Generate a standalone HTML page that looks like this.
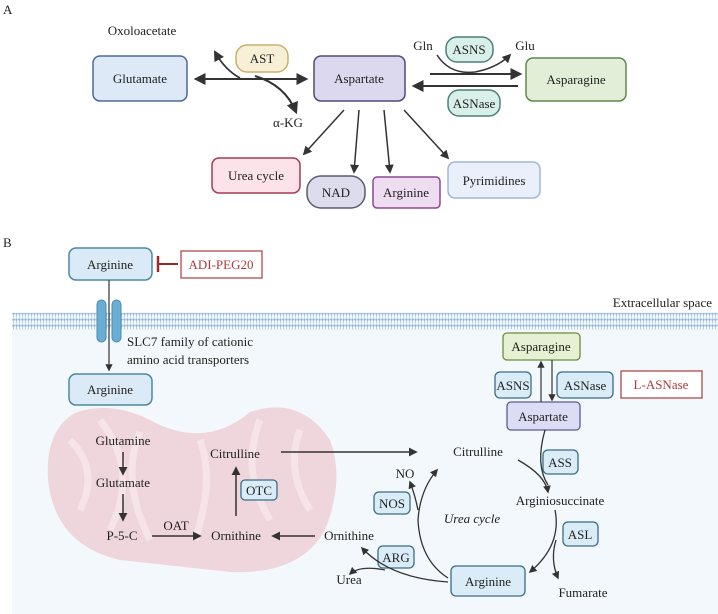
<!DOCTYPE html>
<html><head><meta charset="utf-8"><style>
body{margin:0;background:#fff}
svg{display:block;font-family:"Liberation Serif","DejaVu Serif",serif}
text{font-size:13px;fill:#222}
</style></head><body>
<svg width="718" height="614" viewBox="0 0 718 614" xmlns="http://www.w3.org/2000/svg">
<defs>
<marker id="a" viewBox="0 0 10 10" refX="8" refY="5" markerWidth="6" markerHeight="6" orient="auto-start-reverse"><path d="M0,0L10,5L0,10z" fill="#333"/></marker>
<pattern id="mem" width="3" height="6" patternUnits="userSpaceOnUse"><rect width="3" height="6" fill="#f2f8fb"/><circle cx="1.5" cy="1.6" r="1.2" fill="#8fb3d6"/><rect x="1" y="2.5" width="1" height="3" fill="#b8cfe6"/></pattern>
</defs>
<!-- Panel A -->
<text x="3" y="14" font-size="12">A</text>
<text x="142" y="35" text-anchor="middle">Oxoloacetate</text>
<rect x="236" y="45" width="52" height="27" rx="11" fill="#f7f0d6" stroke="#c6b26a" stroke-width="1.5"/>
<text x="262" y="63" text-anchor="middle">AST</text>
<rect x="93" y="56" width="94" height="45" rx="7" fill="#dde9f7" stroke="#4b6b96" stroke-width="1.5"/>
<text x="140" y="83" text-anchor="middle">Glutamate</text>
<rect x="314" y="56" width="91" height="45" rx="7" fill="#dcd9ee" stroke="#4f4b78" stroke-width="1.5"/>
<text x="359" y="83" text-anchor="middle">Aspartate</text>
<rect x="526" y="58" width="100" height="43" rx="7" fill="#e2eed8" stroke="#5f8a4a" stroke-width="1.5"/>
<text x="576" y="84" text-anchor="middle">Asparagine</text>
<rect x="446" y="37" width="47" height="25" rx="11" fill="#d8efea" stroke="#4b8078" stroke-width="1.5"/>
<text x="469" y="54" text-anchor="middle">ASNS</text>
<rect x="448" y="90" width="52" height="26" rx="11" fill="#d8efea" stroke="#4b8078" stroke-width="1.5"/>
<text x="474" y="108" text-anchor="middle">ASNase</text>
<text x="423" y="50" text-anchor="middle">Gln</text>
<text x="525" y="50" text-anchor="middle">Glu</text>
<text x="288" y="127" text-anchor="middle">α-KG</text>
<line x1="196" y1="79" x2="306" y2="79" stroke="#333" stroke-width="2" marker-start="url(#a)" marker-end="url(#a)"/>
<path d="M240,78 Q225,70 215,52" fill="none" stroke="#333" stroke-width="1.8" marker-end="url(#a)"/>
<path d="M255,76 Q285,85 296,112" fill="none" stroke="#333" stroke-width="2" marker-end="url(#a)"/>
<line x1="430" y1="74" x2="520" y2="74" stroke="#333" stroke-width="2" marker-end="url(#a)"/>
<line x1="518" y1="86" x2="414" y2="86" stroke="#333" stroke-width="2" marker-end="url(#a)"/>
<path d="M437,55 Q450,75 475,72 Q497,68 510,55" fill="none" stroke="#333" stroke-width="1.5" marker-end="url(#a)"/>
<path d="M344,110 L304,154" stroke="#333" stroke-width="1.5" marker-end="url(#a)"/>
<path d="M359,110 L354,172" stroke="#333" stroke-width="1.5" marker-end="url(#a)"/>
<path d="M384,110 L390,172" stroke="#333" stroke-width="1.5" marker-end="url(#a)"/>
<path d="M404,110 L448,158" stroke="#333" stroke-width="1.5" marker-end="url(#a)"/>
<rect x="212" y="158" width="88" height="35" rx="7" fill="#fbe3e9" stroke="#a83a56" stroke-width="1.5"/>
<text x="256" y="180" text-anchor="middle">Urea cycle</text>
<rect x="307" y="176" width="58" height="32" rx="14" fill="#dcdcec" stroke="#5a5a70" stroke-width="1.5"/>
<text x="336" y="197" text-anchor="middle">NAD</text>
<rect x="373" y="177" width="67" height="31" rx="4" fill="#eedcf0" stroke="#8a4a90" stroke-width="1.5"/>
<text x="406" y="197" text-anchor="middle">Arginine</text>
<rect x="448" y="162" width="92" height="36" rx="7" fill="#eaf0fb" stroke="#a3b5d6" stroke-width="1.5"/>
<text x="494" y="185" text-anchor="middle">Pyrimidines</text>
<!-- Panel B -->
<text x="3" y="247" font-size="12">B</text>
<rect x="12" y="312" width="706" height="302" fill="#f2f8fb"/>
<rect x="12" y="313" width="706" height="17" fill="url(#mem)"/>
<text x="712" y="307" text-anchor="end">Extracellular space</text>
<rect x="69" y="248" width="83" height="32" rx="7" fill="#dbeaf6" stroke="#4a8aa0" stroke-width="1.5"/>
<text x="110" y="269" text-anchor="middle">Arginine</text>
<rect x="181" y="251" width="81" height="27" fill="#fff" stroke="#b04a4a" stroke-width="1.3"/>
<text x="221" y="269" text-anchor="middle" style="fill:#b03a3a">ADI-PEG20</text>
<line x1="178" y1="264" x2="158" y2="264" stroke="#9a2a2a" stroke-width="2"/>
<line x1="158" y1="256" x2="158" y2="272" stroke="#9a2a2a" stroke-width="2.5"/>
<rect x="97" y="300" width="9" height="42" rx="4.5" fill="#6aaed3" stroke="#4a8ab0"/>
<rect x="112" y="300" width="9" height="42" rx="4.5" fill="#6aaed3" stroke="#4a8ab0"/>
<line x1="109" y1="280" x2="109" y2="370" stroke="#333" stroke-width="1.2" marker-end="url(#a)"/>
<text x="127" y="346">SLC7 family of cationic</text>
<text x="127" y="364">amino acid transporters</text>
<rect x="69" y="374" width="83" height="31" rx="7" fill="#dbeaf6" stroke="#4a8aa0" stroke-width="1.5"/>
<text x="110" y="394" text-anchor="middle">Arginine</text>
<!-- mitochondrion -->
<path d="M75,413 Q110,400 150,420 Q205,450 250,412 Q300,395 330,440 Q345,480 325,530 Q300,575 230,572 L120,560 Q55,545 48,480 Q45,430 75,413z" fill="#efd6dc"/>
<path d="M70,440 Q100,470 80,510 M100,420 Q140,470 110,530 M140,432 Q120,480 150,540 M200,440 Q215,480 195,540 M260,420 Q240,470 270,520 M300,430 Q285,470 310,510" fill="none" stroke="#f6e4e8" stroke-width="7"/>
<text x="123" y="445" text-anchor="middle">Glutamine</text>
<text x="123" y="487" text-anchor="middle">Glutamate</text>
<text x="122" y="540" text-anchor="middle">P-5-C</text>
<line x1="123" y1="452" x2="123" y2="474" stroke="#333" stroke-width="1.5" marker-end="url(#a)"/>
<line x1="123" y1="494" x2="123" y2="520" stroke="#333" stroke-width="1.5" marker-end="url(#a)"/>
<text x="176" y="530" text-anchor="middle">OAT</text>
<line x1="152" y1="536" x2="200" y2="536" stroke="#333" stroke-width="1.5" marker-end="url(#a)"/>
<text x="236" y="540" text-anchor="middle">Ornithine</text>
<rect x="241" y="480" width="36" height="20" rx="4" fill="#d9ecf7" stroke="#3b6e84" stroke-width="1.3"/>
<text x="259" y="495" text-anchor="middle">OTC</text>
<line x1="236" y1="516" x2="236" y2="468" stroke="#333" stroke-width="1.5" marker-end="url(#a)"/>
<text x="235" y="458" text-anchor="middle">Citrulline</text>
<line x1="281" y1="452" x2="416" y2="452" stroke="#333" stroke-width="1.5" marker-end="url(#a)"/>
<text x="349" y="540" text-anchor="middle">Ornithine</text>
<line x1="315" y1="536" x2="273" y2="536" stroke="#333" stroke-width="1.5" marker-end="url(#a)"/>
<text x="478" y="456" text-anchor="middle">Citrulline</text>
<!-- asparagine region -->
<rect x="503" y="333" width="77" height="27" rx="4" fill="#e6f0d2" stroke="#6e8c3a" stroke-width="1.3"/>
<text x="541" y="351" text-anchor="middle">Asparagine</text>
<rect x="507" y="402" width="73" height="28" rx="4" fill="#dcdcf4" stroke="#5a5a9a" stroke-width="1.3"/>
<text x="543" y="421" text-anchor="middle">Aspartate</text>
<rect x="495" y="372" width="36" height="26" rx="5" fill="#d9ecf7" stroke="#3b6e84" stroke-width="1.3"/>
<text x="513" y="390" text-anchor="middle">ASNS</text>
<rect x="557" y="372" width="56" height="26" rx="5" fill="#d9ecf7" stroke="#3b6e84" stroke-width="1.3"/>
<text x="585" y="390" text-anchor="middle">ASNase</text>
<rect x="621" y="371" width="81" height="27" fill="#fff" stroke="#b04a4a" stroke-width="1.3"/>
<text x="661" y="389" text-anchor="middle" style="fill:#b03a3a">L-ASNase</text>
<line x1="541" y1="402" x2="541" y2="362" stroke="#333" stroke-width="1.2" marker-end="url(#a)"/>
<line x1="552" y1="360" x2="552" y2="400" stroke="#333" stroke-width="1.2" marker-end="url(#a)"/>
<!-- urea cycle -->
<rect x="543" y="450" width="35" height="24" rx="5" fill="#d9ecf7" stroke="#3b6e84" stroke-width="1.3"/>
<text x="560" y="467" text-anchor="middle">ASS</text>
<text x="560" y="505" text-anchor="middle">Arginiosuccinate</text>
<rect x="563" y="522" width="35" height="24" rx="5" fill="#d9ecf7" stroke="#3b6e84" stroke-width="1.3"/>
<text x="580" y="539" text-anchor="middle">ASL</text>
<rect x="451" y="566" width="74" height="30" rx="5" fill="#d9ecf7" stroke="#3b6e84" stroke-width="1.3"/>
<text x="488" y="586" text-anchor="middle">Arginine</text>
<text x="583" y="597" text-anchor="middle">Fumarate</text>
<text x="349" y="584" text-anchor="middle">Urea</text>
<text x="405" y="478" text-anchor="middle">NO</text>
<rect x="374" y="492" width="36" height="22" rx="5" fill="#d9ecf7" stroke="#3b6e84" stroke-width="1.3"/>
<text x="392" y="508" text-anchor="middle">NOS</text>
<rect x="378" y="546" width="36" height="22" rx="5" fill="#d9ecf7" stroke="#3b6e84" stroke-width="1.3"/>
<text x="396" y="562" text-anchor="middle">ARG</text>
<text x="472" y="523" text-anchor="middle" font-style="italic">Urea cycle</text>
<path d="M518,460 Q545,475 548,492" fill="none" stroke="#333" stroke-width="1.3" marker-end="url(#a)"/>
<path d="M545,430 Q535,465 548,485" fill="none" stroke="#333" stroke-width="1.3"/>
<path d="M555,510 Q562,545 530,572" fill="none" stroke="#333" stroke-width="1.3" marker-end="url(#a)"/>
<path d="M556,540 Q550,560 558,578" fill="none" stroke="#333" stroke-width="1.3" marker-end="url(#a)"/>
<path d="M448,578 Q420,560 418,520 Q420,490 437,470" fill="none" stroke="#333" stroke-width="1.3" marker-end="url(#a)"/>
<path d="M418,510 Q415,495 410,482" fill="none" stroke="#333" stroke-width="1.3" marker-end="url(#a)"/>
<path d="M448,582 Q390,578 362,548" fill="none" stroke="#333" stroke-width="1.3" marker-end="url(#a)"/>
<path d="M385,570 Q360,565 350,574" fill="none" stroke="#333" stroke-width="1.3" marker-end="url(#a)"/>
</svg>
</body></html>
